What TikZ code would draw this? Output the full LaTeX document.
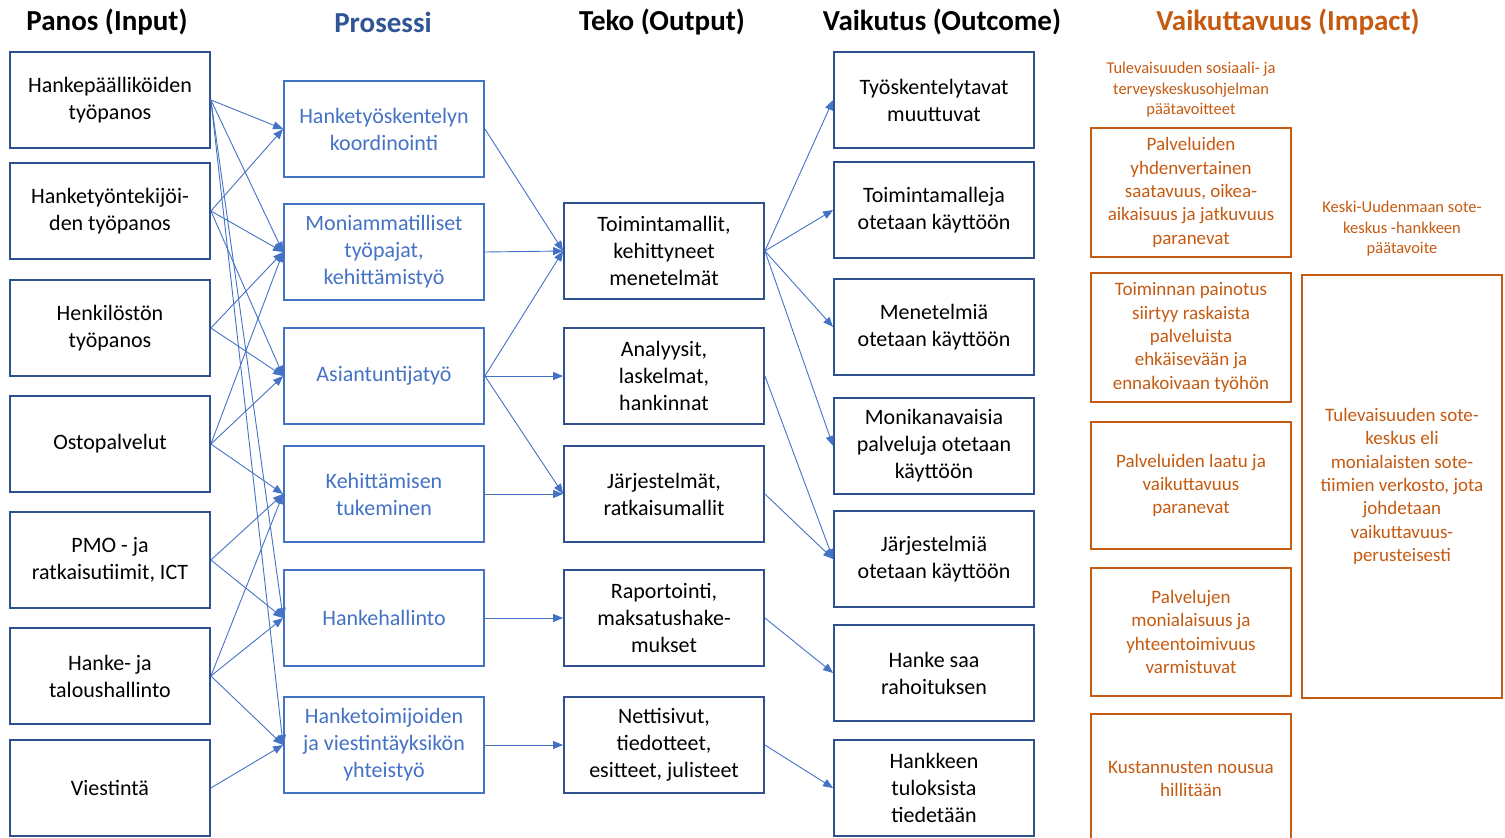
\documentclass[tikz,border=0pt]{standalone}
\usepackage{fontspec}
\setmainfont{Carlito}
\usetikzlibrary{arrows.meta}
\definecolor{darkblue}{HTML}{2F528F}
\definecolor{midblue}{HTML}{4472C4}
\definecolor{headblue}{HTML}{2F5597}
\definecolor{rust}{HTML}{C55A11}
\tikzset{
  box/.style={draw, line width=1.8pt, minimum width=200pt, minimum height=96pt,
    inner sep=0pt, align=center, font=\fontsize{22}{27}\selectfont},
  inbox/.style={box, draw=darkblue, text=black},
  procbox/.style={box, draw=midblue, text=midblue},
  outbox/.style={box, draw=darkblue, text=black},
  impbox/.style={box, draw=rust, text=rust, font=\fontsize{19}{23.3}\selectfont},
  impnote/.style={text=rust, align=center, inner sep=0pt, font=\fontsize{16.5}{20.5}\selectfont},
  colhead/.style={font=\fontsize{29}{33}\selectfont\bfseries, inner sep=0pt},
  link/.style={draw=midblue, line width=0.9pt, -{Triangle[length=10pt,width=8pt]}}
}
\begin{document}
\begin{tikzpicture}[x=1pt,y=-1pt]
\useasboundingbox (0,0) rectangle (1505,838);

% column headings
\node[colhead] (h1) at (107,22) {Panos (Input)};
\node[colhead, text=headblue] (h2) at (383,22) {Prosessi};
\node[colhead] (h3) at (662,22) {Teko (Output)};
\node[colhead] (h4) at (942,22) {Vaikutus (Outcome)};
\node[colhead, text=rust] (h5) at (1288,22) {Vaikuttavuus (Impact)};

% inputs
\node[inbox] (i1) at (110,100) {Hankepäälliköiden\\työpanos};
\node[inbox] (i2) at (110,211) {Hanketyöntekijöi-\\den työpanos};
\node[inbox] (i3) at (110,328) {Henkilöstön\\työpanos};
\node[inbox] (i4) at (110,444) {Ostopalvelut};
\node[inbox] (i5) at (110,560) {PMO - ja\\ratkaisutiimit, ICT};
\node[inbox] (i6) at (110,676) {Hanke- ja\\taloushallinto};
\node[inbox] (i7) at (110,788) {Viestintä};

% processes
\node[procbox] (p1) at (384,129) {Hanketyöskentelyn\\koordinointi};
\node[procbox] (p2) at (384,252) {Moniammatilliset\\työpajat,\\kehittämistyö};
\node[procbox] (p3) at (384,376) {Asiantuntijatyö};
\node[procbox] (p4) at (384,494) {Kehittämisen\\tukeminen};
\node[procbox] (p5) at (384,618) {Hankehallinto};
\node[procbox] (p6) at (384,745) {Hanketoimijoiden\\ja viestintäyksikön\\yhteistyö};

% outputs
\node[outbox] (o1) at (664,251) {Toimintamallit,\\kehittyneet\\menetelmät};
\node[outbox] (o2) at (664,376) {Analyysit,\\laskelmat,\\hankinnat};
\node[outbox] (o3) at (664,494) {Järjestelmät,\\ratkaisumallit};
\node[outbox] (o4) at (664,618) {Raportointi,\\maksatushake-\\mukset};
\node[outbox] (o5) at (664,745) {Nettisivut,\\tiedotteet,\\esitteet, julisteet};

% outcomes
\node[outbox] (c1) at (934,100) {Työskentelytavat\\muuttuvat};
\node[outbox] (c2) at (934,210) {Toimintamalleja\\otetaan käyttöön};
\node[outbox] (c3) at (934,327) {Menetelmiä\\otetaan käyttöön};
\node[outbox] (c4) at (934,446) {Monikanavaisia\\palveluja otetaan\\käyttöön};
\node[outbox] (c5) at (934,559) {Järjestelmiä\\otetaan käyttöön};
\node[outbox] (c6) at (934,673) {Hanke saa\\rahoituksen};
\node[outbox] (c7) at (934,788) {Hankkeen\\tuloksista\\tiedetään};

% impact
\node[impnote] (n1) at (1191,90) {Tulevaisuuden sosiaali- ja\\terveyskeskusohjelman\\päätavoitteet};
\node[impnote] (n2) at (1402,229) {Keski-Uudenmaan sote-\\keskus -hankkeen\\päätavoite};
\node[impbox, minimum height=129pt] (m1) at (1191,192.5) {Palveluiden\\yhdenvertainen\\saatavuus, oikea-\\aikaisuus ja jatkuvuus\\paranevat};
\node[impbox, minimum height=129pt] (m2) at (1191,337.5) {Toiminnan painotus\\siirtyy raskaista\\palveluista\\ehkäisevään ja\\ennakoivaan työhön};
\node[impbox, minimum height=127pt] (m3) at (1191,485.5) {Palveluiden laatu ja\\vaikuttavuus\\paranevat};
\node[impbox, minimum height=128pt] (m4) at (1191,632) {Palvelujen\\monialaisuus ja\\yhteentoimivuus\\varmistuvat};
\node[impbox, minimum height=130pt] (m5) at (1191,779) {Kustannusten nousua\\hillitään};
\node[impbox, minimum height=423pt] (m6) at (1402,486.5) {Tulevaisuuden sote-\\keskus eli\\monialaisten sote-\\tiimien verkosto, jota\\johdetaan\\vaikuttavuus-\\perusteisesti};

% inputs to processes
\foreach \a/\b in {i1/p1, i1/p2, i1/p5, i1/p6,
                   i2/p1, i2/p2, i2/p3,
                   i3/p2, i3/p3,
                   i4/p2, i4/p3, i4/p4,
                   i5/p4, i5/p5,
                   i6/p4, i6/p5, i6/p6,
                   i7/p6}
  \draw[link] (\a.east) -- (\b.west);

% processes to outputs
\foreach \a/\b in {p1/o1, p2/o1, p3/o1, p3/o2, p3/o3, p4/o3, p5/o4, p6/o5}
  \draw[link] (\a.east) -- (\b.west);

% outputs to outcomes
\foreach \a/\b in {o1/c1, o1/c2, o1/c3, o1/c4, o2/c5, o3/c5, o4/c6, o5/c7}
  \draw[link] (\a.east) -- (\b.west);
\end{tikzpicture}
\end{document}
